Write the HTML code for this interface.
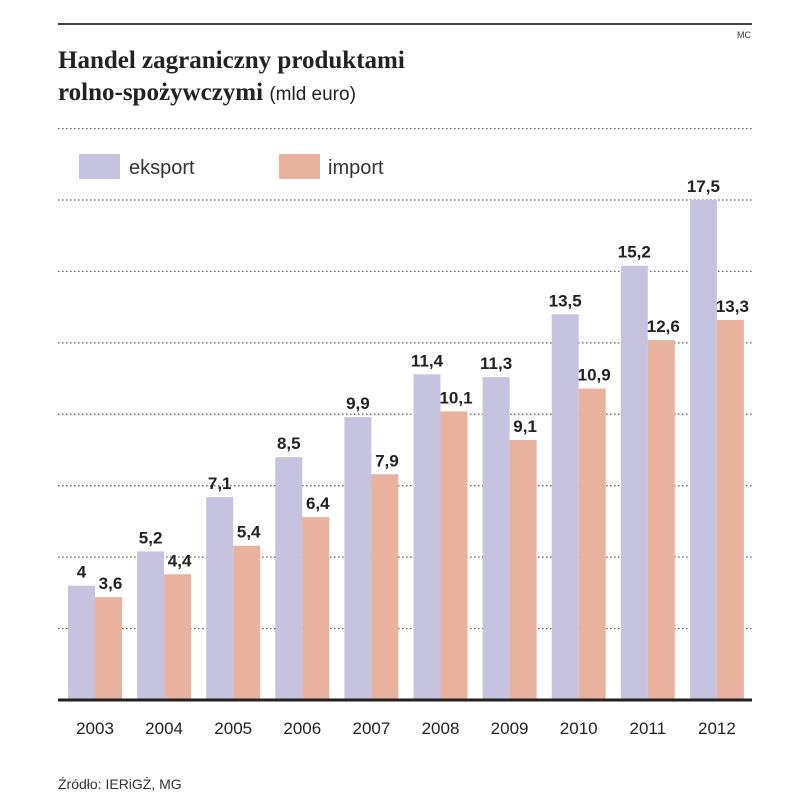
<!DOCTYPE html>
<html><head><meta charset="utf-8"><style>
body{margin:0;background:#fff;}
</style></head><body>
<svg width="805" height="800" viewBox="0 0 805 800" xmlns="http://www.w3.org/2000/svg" style="font-family:'Liberation Sans',sans-serif">
<line x1="58" y1="24" x2="752" y2="24" stroke="#444" stroke-width="2"/>
<text x="737" y="38" font-size="9" fill="#333">MC</text>
<text x="58" y="68" style="font-family:'Liberation Serif',serif;font-weight:bold;font-size:25px" fill="#222">Handel zagraniczny produktami</text>
<text x="58" y="100" style="font-family:'Liberation Serif',serif;font-weight:bold;font-size:25px" fill="#222">rolno-spożywczymi <tspan style="font-family:'Liberation Sans',sans-serif;font-weight:normal;font-size:19px">(mld euro)</tspan></text>
<rect x="79" y="154" width="41" height="25" fill="#c5c3df"/>
<text x="129" y="174" font-size="20" fill="#333">eksport</text>
<rect x="279" y="154" width="41" height="25" fill="#e9b29e"/>
<text x="328" y="174" font-size="20" fill="#333">import</text>
<g id="grid"></g>
<g id="bars"></g>
<line x1="58" y1="700" x2="752" y2="700" stroke="#222" stroke-width="3"/>
<g id="xl"></g>
<text x="58" y="789" font-size="14" fill="#333">Źródło: IERiGŻ, MG</text>
</svg>
<script>
const years=["2003","2004","2005","2006","2007","2008","2009","2010","2011","2012"];
const eksport=[4,5.2,7.1,8.5,9.9,11.4,11.3,13.5,15.2,17.5];
const importV=[3.6,4.4,5.4,6.4,7.9,10.1,9.1,10.9,12.6,13.3];
const gridTicks=[2.5,5,7.5,10,12.5,15,17.5,20];
const NS="http://www.w3.org/2000/svg";
const y0=700, k=500/17.5;
const yS=v=>y0-v*k;
const xS=i=>68+i*69.1;
const bw=27;
function mk(t,a,p){const e=document.createElementNS(NS,t);for(const n in a)e.setAttribute(n,a[n]);p.appendChild(e);return e;}
const G=document.getElementById('grid'),B=document.getElementById('bars'),X=document.getElementById('xl');
gridTicks.forEach(v=>{const l=mk('line',{x1:58,x2:752,y1:yS(v),y2:yS(v),stroke:'#555','stroke-width':1.2,'stroke-dasharray':'1.5 2.5'},G);

});
const fmt=v=>String(v).replace('.',',');
years.forEach((y,i)=>{
 const x=xS(i);
 const r1=mk('rect',{x:x,y:yS(eksport[i]),width:bw,height:eksport[i]*k,fill:'#c5c3df'},B);
 
 
 const r2=mk('rect',{x:x+bw,y:yS(importV[i]),width:bw,height:importV[i]*k,fill:'#e9b29e'},B);
 
 
 const t1=mk('text',{x:x+bw/2,y:yS(eksport[i])-8,'text-anchor':'middle','font-size':17,'font-weight':'bold',fill:'#222'},B);t1.textContent=fmt(eksport[i]);
 
 
 const t2=mk('text',{x:x+bw+bw/2+2,y:yS(importV[i])-8,'text-anchor':'middle','font-size':17,'font-weight':'bold',fill:'#222'},B);t2.textContent=fmt(importV[i]);
 
 
 const t3=mk('text',{x:x+bw,y:734,'text-anchor':'middle','font-size':17,fill:'#222'},X);t3.textContent=y;
 
 
});
</script>
</body></html>
